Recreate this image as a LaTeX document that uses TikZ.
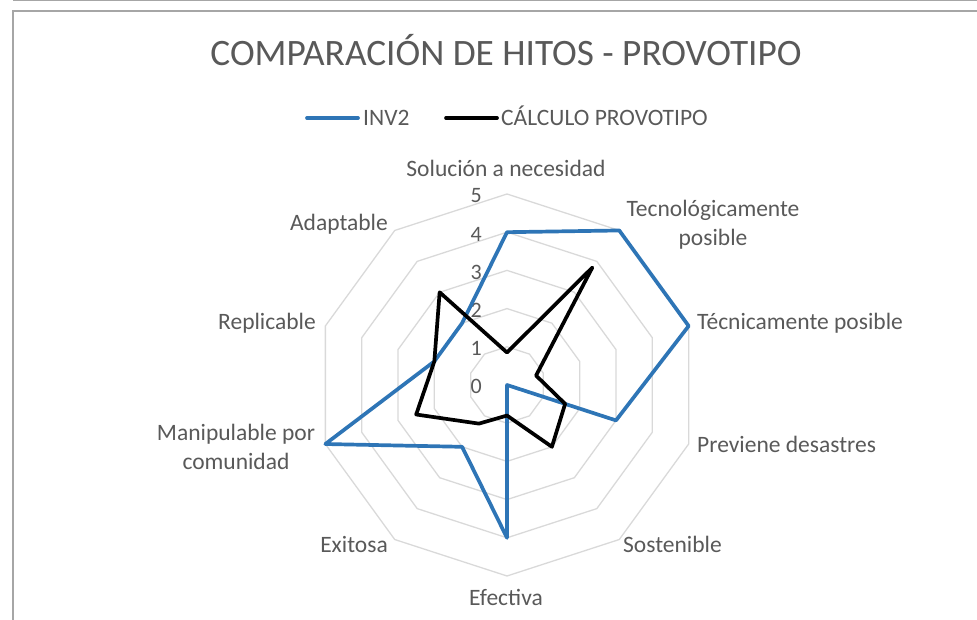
\documentclass[tikz,border=0pt]{standalone}
\usepackage{fontspec}
\setmainfont{Carlito}
\usepackage{tikz}

\definecolor{invblue}{HTML}{2E75B6}
\definecolor{txtgray}{HTML}{595959}
\definecolor{ringgray}{HTML}{D9D9D9}
\definecolor{framegray}{HTML}{A6A6A6}

\newcommand{\unitr}{38.2}

\begin{document}
\begin{tikzpicture}[
    x=1pt,y=1pt,
    frame/.style={framegray, line width=1.4pt},
    ring/.style={ringgray, line width=1.3pt},
    inv/.style={line width=3.7pt, invblue, line join=round, line cap=round},
    calc/.style={line width=3.7pt, black, line join=round, line cap=round},
    lbl/.style={text=txtgray, inner sep=0pt, font=\fontsize{23.5}{29}\selectfont},
    tick/.style={text=txtgray, inner sep=0pt, font=\fontsize{22}{26}\selectfont, anchor=base east}
    ]
    \useasboundingbox (0,0) rectangle (977,620);
    \draw[frame] (13,619.5) -- (977,619.5);
    \draw[frame] (977,609) -- (13,609) -- (13,0);

    \node[text=txtgray, inner sep=0pt, anchor=base, font=\fontsize{37.3}{40}\selectfont] (title) at (506,554) {COMPARACIÓN DE HITOS - PROVOTIPO};

    % legend
    \coordinate (inv-a) at (307,502);
    \coordinate (inv-b) at (358,502);
    \coordinate (calc-a) at (446,502);
    \coordinate (calc-b) at (497,502);
    \draw[inv] (inv-a) -- (inv-b);
    \draw[calc] (calc-a) -- (calc-b);
    \node[lbl, anchor=base west] (leg-inv) at (363,494) {INV2};
    \node[lbl, anchor=base west] (leg-calc) at (501,494) {CÁLCULO PROVOTIPO};

    \begin{scope}[shift={(507,235)}]
    \foreach \k in {1,...,5}
      \draw[ring] (90:{\k*\unitr}) \foreach \a in {1,...,9}{ -- ({90-36*\a}:{\k*\unitr})} -- cycle;
    \foreach \k in {0,...,5}
      \node[tick] (tick-\k) at (-25,{\k*\unitr-9}) {\k};

    % series
    \foreach \v [count=\i from 0] in {4,5,5,3,0,4,2,5,2,2}
      \coordinate (inv-\i) at ({90-36*\i}:{\v*\unitr});
    \foreach \v [count=\i from 0] in {0.85,3.8,0.8,1.6,2,0.8,1.25,2.5,2,3}
      \coordinate (calc-\i) at ({90-36*\i}:{\v*\unitr});
    \draw[inv] (inv-0) \foreach \i in {1,...,9}{ -- (inv-\i)} -- cycle;
    \draw[calc] (calc-0) \foreach \i in {1,...,9}{ -- (calc-\i)} -- cycle;
    \end{scope}

    % axis labels
    \node[lbl, anchor=base] (solucion) at (506,443) {Solución a necesidad};
    \node[lbl, align=center] (tecnologico) at (713,395) {Tecnológicamente\\posible};
    \node[lbl, anchor=base west] (tecnico) at (697,290) {Técnicamente posible};
    \node[lbl, anchor=base west] (previene) at (697,167) {Previene desastres};
    \node[lbl, anchor=base west] (sostenible) at (623,67) {Sostenible};
    \node[lbl, anchor=base] (efectiva) at (506,14) {Efectiva};
    \node[lbl, anchor=base east] (exitosa) at (388,67) {Exitosa};
    \node[lbl, align=center] (manipulable) at (236,173.5) {Manipulable por\\comunidad};
    \node[lbl, anchor=base east] (replicable) at (316,290) {Replicable};
    \node[lbl, anchor=base east] (adaptable) at (388,389) {Adaptable};
\end{tikzpicture}
\end{document}
